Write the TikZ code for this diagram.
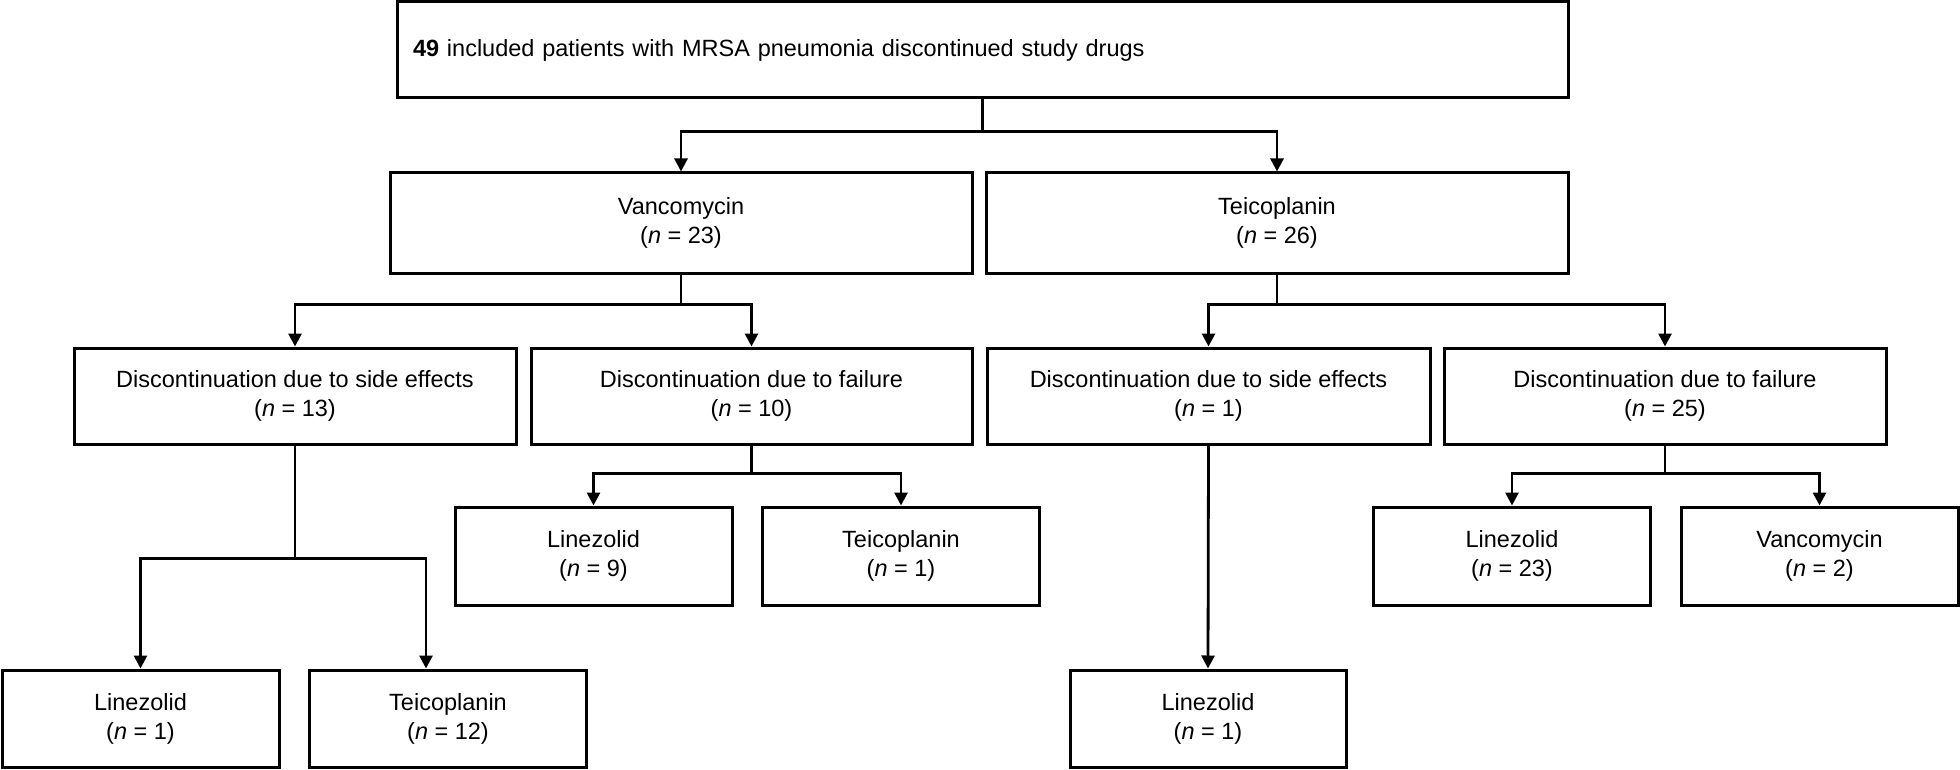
\documentclass[tikz,border=0pt]{standalone}
\usepackage{fontspec}
\setmainfont{Liberation Sans}
\usetikzlibrary{arrows.meta}
\newcommand{\lw}{2.8pt}
\newcommand{\nn}[1]{(\textit{n} = #1)}

\begin{document}
\begin{tikzpicture}[x=1pt, y=-1pt,
    box/.style={draw, rectangle, line width=3pt, align=center, inner sep=0pt, font=\fontsize{23.5}{29}\selectfont},
    arr/.style={line width=\lw, -{Triangle[length=13pt, width=13pt]}}]
    \useasboundingbox (0,0) rectangle (1960,770);

    % Top row
    \node[box, text width=1139pt, inner xsep=16pt, minimum height=96pt, align=left] (top) at (982.5,50) {{\bfseries 49} included patients with MRSA pneumonia discontinued study drugs};

    % Study drugs
    \node[box, minimum width=582pt, minimum height=100pt] (van) at (681,223) {Vancomycin\\\nn{23}};
    \node[box, minimum width=582pt, minimum height=100pt] (tei) at (1277,223) {Teicoplanin\\\nn{26}};

    % Reasons
    \node[box, minimum width=442pt, minimum height=96pt] (van-se) at (295,396) {Discontinuation due to side effects\\\nn{13}};
    \node[box, minimum width=441pt, minimum height=96pt] (van-fa) at (751.5,396) {Discontinuation due to failure\\\nn{10}};
    \node[box, minimum width=443pt, minimum height=96pt] (tei-se) at (1208.5,396) {Discontinuation due to side effects\\\nn{1}};
    \node[box, minimum width=442pt, minimum height=96pt] (tei-fa) at (1665,396) {Discontinuation due to failure\\\nn{25}};

    % After failure
    \node[box, minimum width=277pt, minimum height=98pt] (van-fa-lin) at (593.5,556) {Linezolid\\\nn{9}};
    \node[box, minimum width=277pt, minimum height=98pt] (van-fa-tei) at (901,556) {Teicoplanin\\\nn{1}};
    \node[box, minimum width=277pt, minimum height=98pt] (tei-fa-lin) at (1512,556) {Linezolid\\\nn{23}};
    \node[box, minimum width=277pt, minimum height=98pt] (tei-fa-van) at (1819.5,556) {Vancomycin\\\nn{2}};

    % After side effects
    \node[box, minimum width=277pt, minimum height=97pt] (van-se-lin) at (140.5,718.5) {Linezolid\\\nn{1}};
    \node[box, minimum width=277pt, minimum height=97pt] (van-se-tei) at (448,718.5) {Teicoplanin\\\nn{12}};
    \node[box, minimum width=276pt, minimum height=97pt] (tei-se-lin) at (1208,718.5) {Linezolid\\\nn{1}};

    % Connectors
    \draw[arr] (top.south) -- ++(0,32) -| (van.north);
    \draw[arr] (top.south) -- ++(0,32) -| (tei.north);

    \draw[arr] (van.south) -- ++(0,30) -| (van-se.north);
    \draw[arr] (van.south) -- ++(0,30) -| (van-fa.north);
    \draw[arr] (tei.south) -- ++(0,30) -| (tei-se.north);
    \draw[arr] (tei.south) -- ++(0,30) -| (tei-fa.north);

    \draw[arr] (van-fa.south) -- ++(0,28) -| (van-fa-lin.north);
    \draw[arr] (van-fa.south) -- ++(0,28) -| (van-fa-tei.north);
    \draw[arr] (tei-fa.south) -- ++(0,28) -| (tei-fa-lin.north);
    \draw[arr] (tei-fa.south) -- ++(0,28) -| (tei-fa-van.north);

    \draw[arr] (van-se.south) -- ++(0,113) -| (van-se-lin.north);
    \draw[arr] (van-se.south) -- ++(0,113) -| ([xshift=-22pt]van-se-tei.north);
    \draw[arr] (tei-se.south) -- (tei-se-lin.north);

\end{tikzpicture}
\end{document}
